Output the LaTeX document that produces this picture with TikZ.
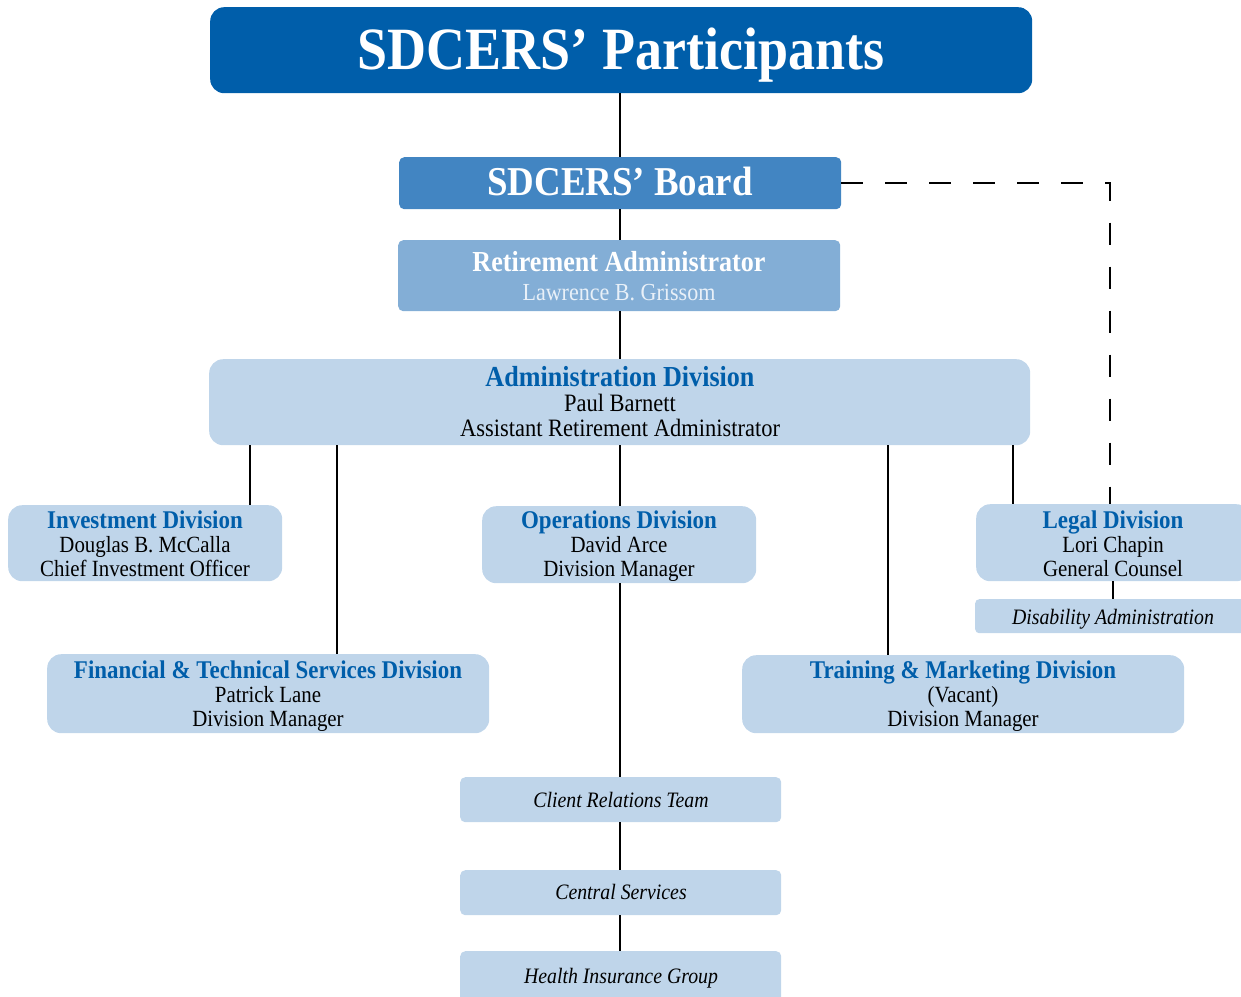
\documentclass[tikz,border=0pt]{standalone}
\usepackage{fontspec}
\setmainfont{Liberation Serif}[FakeStretch=0.9]
\definecolor{deepblue}{RGB}{0,94,170}
\definecolor{boardblue}{RGB}{66,133,194}
\definecolor{adminblue}{RGB}{131,174,214}
\definecolor{paleblue}{RGB}{191,213,234}
\definecolor{headblue}{RGB}{0,94,170}
\definecolor{softwhite}{RGB}{232,240,248}
\newcommand{\szf}[2]{\fontsize{#1}{#2}\selectfont}
\newcommand{\divhead}[1]{{\color{headblue}\bfseries\szf{25.5}{24}#1}}

\begin{document}
\begin{tikzpicture}[x=1pt,y=-1pt,
  panel/.style={rectangle, draw=none, inner sep=0pt, anchor=north west},
  bigpanel/.style={panel, fill=paleblue, rounded corners=14pt},
  smallpanel/.style={panel, fill=paleblue, rounded corners=5pt},
  txt/.style={inner sep=0pt, anchor=base, align=center},
  divtext/.style={txt, font=\szf{23.2}{24}},
  unittext/.style={txt, font=\itshape\szf{22}{24}},
  link/.style={line width=1.8pt, black},
  dotted link/.style={line width=1.8pt, black, dash pattern=on 22pt off 22pt}
]
\clip (0,0) rectangle (1241,996);

% ---- boxes ----
\node[panel, fill=deepblue, rounded corners=14pt, minimum width=822pt, minimum height=86pt] (title) at (210,7) {};
\node[panel, fill=boardblue, rounded corners=5pt, minimum width=442pt, minimum height=52pt] (board) at (399,157) {};
\node[panel, fill=adminblue, rounded corners=5pt, minimum width=442pt, minimum height=71pt] (ret) at (398,240) {};
\node[bigpanel, minimum width=821pt, minimum height=86pt] (admin) at (209,359) {};
\node[bigpanel, minimum width=274pt, minimum height=76pt] (inv) at (8,505) {};
\node[bigpanel, minimum width=274pt, minimum height=77pt] (ops) at (482,506) {};
\node[bigpanel, minimum width=274pt, minimum height=77pt] (legal) at (976,504) {};
\node[smallpanel, rounded corners=4pt, minimum width=275pt, minimum height=34pt] (dis) at (975,599) {};
\node[bigpanel, minimum width=442pt, minimum height=79pt] (fin) at (47,654) {};
\node[bigpanel, minimum width=442pt, minimum height=78pt] (train) at (742,655) {};
\node[smallpanel, minimum width=321pt, minimum height=45pt] (client) at (460,777) {};
\node[smallpanel, minimum width=321pt, minimum height=45pt] (central) at (460,870) {};
\node[smallpanel, minimum width=321pt, minimum height=60pt] (health) at (460,951) {};

% ---- texts ----
\node[txt, text=white, font=\bfseries\szf{60}{60}] (tTitle) at (621,69) {SDCERS’ Participants};
\node[txt, text=white, font=\bfseries\szf{41}{41}] (tBoard) at (620,195) {SDCERS’ Board};
\node[txt, text=white, font=\bfseries\szf{29}{29}] (tRet) at (619,271) {Retirement Administrator};
\node[txt, text=softwhite, font=\szf{24.5}{29}] (tRetName) at (619,300) {Lawrence B. Grissom};
\node[txt, text=headblue, font=\bfseries\szf{29}{25}] (tAdmin) at (620,386) {Administration Division};
\node[txt, font=\szf{25}{25.5}] (tAdminName) at (620,411) {Paul Barnett};
\node[txt, font=\szf{25}{25.5}] (tAdminRole) at (620,436) {Assistant Retirement Administrator};

\node[divtext] (tInv) at (145,576) {\divhead{Investment Division}\\Douglas B. McCalla\\Chief Investment Officer};
\node[divtext] (tOps) at (619,576) {\divhead{Operations Division}\\David Arce\\Division Manager};
\node[divtext] (tLegal) at (1113,576) {\divhead{Legal Division}\\Lori Chapin\\General Counsel};
\node[divtext] (tFin) at (268,726) {\divhead{Financial \& Technical Services Division}\\Patrick Lane\\Division Manager};
\node[divtext] (tTrain) at (963,726) {\divhead{Training \& Marketing Division}\\(Vacant)\\Division Manager};

\node[unittext] (tDis) at (1113,624) {Disability Administration};
\node[unittext] (tClient) at (621,807) {Client Relations Team};
\node[unittext] (tCentral) at (621,899) {Central Services};
\node[unittext] (tHealth) at (621,983) {Health Insurance Group};

% ---- connector columns ----
\coordinate (spine) at (620,0);
\coordinate (colInv) at (250,0);
\coordinate (colFin) at (337,0);
\coordinate (colTrain) at (888,0);
\coordinate (colLegal) at (1013,0);
\coordinate (colDis) at (1113,0);
\coordinate (colDash) at (1110,0);

% ---- connectors ----
\draw[link] (spine |- title.south) -- (spine |- board.north);
\draw[link] (spine |- board.south) -- (spine |- ret.north);
\draw[link] (spine |- ret.south) -- (spine |- admin.north);
\draw[link] (spine |- admin.south) -- (spine |- ops.north);
\draw[link] (spine |- ops.south) -- (spine |- client.north);
\draw[link] (spine |- client.south) -- (spine |- central.north);
\draw[link] (spine |- central.south) -- (spine |- health.north);
\draw[link] (colInv |- admin.south) -- (colInv |- inv.north);
\draw[link] (colFin |- admin.south) -- (colFin |- fin.north);
\draw[link] (colTrain |- admin.south) -- (colTrain |- train.north);
\draw[link] (colLegal |- admin.south) -- (colLegal |- legal.north);
\draw[link] (colDis |- legal.south) -- (colDis |- dis.north);
\draw[dotted link] (board.east) -- (colDash |- board.east) -- (colDash |- legal.north);
\end{tikzpicture}
\end{document}
